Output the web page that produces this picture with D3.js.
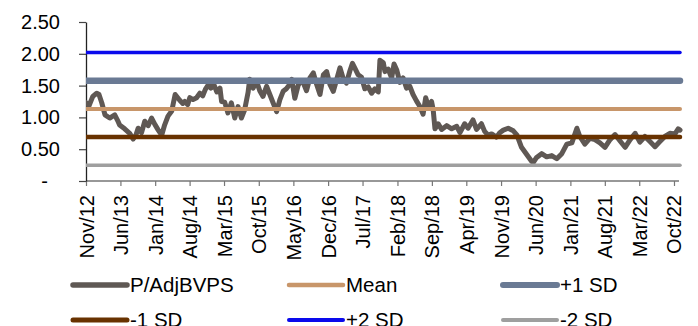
<!DOCTYPE html>
<html><head><meta charset="utf-8">
<script src="https://cdn.jsdelivr.net/npm/d3@7/dist/d3.min.js"></script>
<style>
body{margin:0;background:#fff}
svg text{font-family:"Liberation Sans",Arial,sans-serif;fill:#000}
</style>
</head><body>
<svg id="c" width="698" height="326"></svg>
<script>
// ---- data ----
const dates = ["2012-11-01","2012-11-19","2012-12-13","2013-01-06","2013-01-20","2013-02-06","2013-02-26","2013-03-27","2013-04-27","2013-05-15","2013-05-27","2013-06-27","2013-07-28","2013-08-18","2013-09-04","2013-09-18","2013-10-09","2013-10-29","2013-11-19","2013-12-10","2013-12-30","2014-01-20","2014-02-10","2014-02-28","2014-03-21","2014-04-13","2014-05-04","2014-06-01","2014-06-20","2014-07-02","2014-07-20","2014-08-02","2014-08-22","2014-09-13","2014-10-03","2014-10-21","2014-11-06","2014-11-23","2014-12-10","2014-12-28","2015-01-16","2015-02-04","2015-02-14","2015-03-05","2015-03-25","2015-04-15","2015-05-06","2015-05-26","2015-06-16","2015-07-06","2015-07-27","2015-08-06","2015-08-27","2015-09-17","2015-10-07","2015-10-27","2015-11-18","2015-12-08","2015-12-28","2016-01-19","2016-02-08","2016-02-28","2016-03-19","2016-04-09","2016-04-21","2016-05-10","2016-05-30","2016-06-16","2016-06-30","2016-07-21","2016-08-11","2016-09-01","2016-09-21","2016-10-12","2016-11-02","2016-11-22","2016-12-12","2017-01-02","2017-01-23","2017-02-12","2017-03-03","2017-03-24","2017-04-14","2017-04-30","2017-05-14","2017-06-04","2017-06-25","2017-07-15","2017-08-05","2017-08-26","2017-09-15","2017-10-06","2017-10-16","2017-11-06","2017-11-16","2017-12-06","2017-12-27","2018-01-11","2018-01-27","2018-02-16","2018-03-08","2018-03-29","2018-04-18","2018-05-08","2018-05-29","2018-06-19","2018-07-09","2018-07-25","2018-08-09","2018-08-30","2018-09-09","2018-09-20","2018-10-10","2018-10-31","2018-12-01","2019-01-01","2019-02-01","2019-02-21","2019-03-22","2019-04-12","2019-05-12","2019-06-03","2019-07-03","2019-07-23","2019-08-14","2019-09-04","2019-10-04","2019-10-24","2019-11-15","2019-12-15","2020-01-15","2020-02-07","2020-03-06","2020-04-06","2020-05-07","2020-05-17","2020-06-07","2020-07-08","2020-08-08","2020-09-08","2020-10-09","2020-11-09","2020-12-10","2021-01-10","2021-02-10","2021-02-28","2021-03-31","2021-05-01","2021-06-01","2021-07-02","2021-08-02","2021-09-02","2021-10-03","2021-11-03","2021-12-04","2022-01-04","2022-02-04","2022-03-05","2022-04-05","2022-05-06","2022-06-06","2022-07-06","2022-08-06","2022-09-06","2022-10-07","2022-10-27","2022-11-07"];
const values = [1.23,1.18,1.33,1.38,1.36,1.23,1.04,0.99,1.04,0.95,0.88,0.82,0.75,0.66,0.72,0.83,0.76,0.94,0.87,0.99,0.89,0.80,0.72,0.88,1.02,1.10,1.36,1.27,1.22,1.25,1.20,1.31,1.28,1.31,1.38,1.34,1.44,1.51,1.46,1.52,1.40,1.46,1.25,1.24,1.07,1.23,0.99,1.17,0.99,1.12,1.39,1.60,1.46,1.57,1.42,1.33,1.49,1.36,1.23,1.09,1.28,1.41,1.45,1.52,1.60,1.30,1.50,1.58,1.55,1.42,1.62,1.70,1.52,1.36,1.67,1.72,1.52,1.41,1.60,1.78,1.62,1.54,1.73,1.85,1.78,1.67,1.63,1.45,1.48,1.38,1.45,1.40,1.90,1.86,1.72,1.76,1.62,1.84,1.75,1.55,1.62,1.46,1.49,1.36,1.26,1.17,1.05,1.31,1.18,1.25,1.12,0.82,0.90,0.81,0.87,0.82,0.86,0.76,0.90,0.83,0.96,0.81,0.90,0.78,0.72,0.74,0.69,0.76,0.80,0.83,0.79,0.72,0.53,0.42,0.31,0.29,0.37,0.43,0.38,0.40,0.35,0.43,0.58,0.60,0.83,0.70,0.58,0.67,0.65,0.60,0.53,0.65,0.73,0.63,0.53,0.65,0.75,0.61,0.70,0.62,0.54,0.62,0.70,0.75,0.74,0.82,0.80];
const seriesName = "P/AdjBVPS";
const refNames = ["Mean","+1 SD","-1 SD","+2 SD","-2 SD"];
const refValues = [1.134,1.577,0.691,2.020,0.248];
const yTickValues = [0,0.5,1,1.5,2,2.5];
const yTickLabels = ["-","0.50","1.00","1.50","2.00","2.50"];
const xTickLabels = ["Nov/12","Jun/13","Jan/14","Aug/14","Mar/15","Oct/15","May/16","Dec/16","Jul/17","Feb/18","Sep/18","Apr/19","Nov/19","Jun/20","Jan/21","Aug/21","Mar/22","Oct/22"];
const legendOrder = ["P/AdjBVPS","Mean","+1 SD","-1 SD","+2 SD","-2 SD"];

// ---- styles ----
const colors = {"P/AdjBVPS":"#5f5854","Mean":"#c8966a","+1 SD":"#6a7a94","-1 SD":"#683200","+2 SD":"#0a0aec","-2 SD":"#9f9f9f"};
const widths = {"P/AdjBVPS":5,"Mean":4,"+1 SD":6.5,"-1 SD":4.5,"+2 SD":3.5,"-2 SD":3.5};

const parse = d3.utcParse("%Y-%m-%d");
const data = dates.map((d,i)=>({date:parse(d),value:values[i]}));
const svg = d3.select("#c");
const x0 = 86, x1 = 680, yTop = 22, yBot = 181;
const x = d3.scaleUtc().domain([data[0].date, data[data.length-1].date]).range([x0,x1]);
const y = d3.scaleLinear().domain([0,2.5]).range([yBot,yTop]);
const FS = 20;

svg.append("defs").append("clipPath").attr("id","clip")
  .append("rect").attr("x",x0).attr("y",0).attr("width",698-x0).attr("height",yBot+4);

// x axis
const xTickDates = xTickLabels.map((l,i)=>d3.utcMonth.offset(data[0].date, 7*i));
const xAxis = d3.axisBottom(x).tickValues(xTickDates).tickSize(5).tickSizeOuter(0)
  .tickFormat((d,i)=>xTickLabels[i]);
const gx = svg.append("g").attr("transform",`translate(0,${yBot})`).call(xAxis);
gx.select(".domain").attr("stroke","#767676").attr("stroke-width",1.5).attr("d",`M${x0},0H${x1-1}`);
gx.selectAll(".tick line").attr("stroke","#767676").attr("stroke-width",1.2);
gx.selectAll(".tick text").attr("transform","rotate(-90)").attr("x",-14).attr("y",7).attr("dy",0)
  .style("text-anchor","end").style("font-size",FS+"px").attr("fill","#000");

// y axis
const yAxis = d3.axisLeft(y).tickValues(yTickValues).tickSize(7).tickPadding(19).tickSizeOuter(0)
  .tickFormat((d,i)=>yTickLabels[i]);
const gy = svg.append("g").attr("transform",`translate(${x0},0)`).call(yAxis);
gy.select(".domain").attr("stroke","#222").attr("stroke-width",1.3);
gy.selectAll(".tick line").attr("stroke","#444").attr("stroke-width",1.2);
gy.selectAll(".tick text").style("font-size",FS+"px").attr("fill","#000")
  .attr("x",(d)=> d===0 ? -38 : -26);

// series line
const line = d3.line().x(d=>x(d.date)).y(d=>y(d.value)).curve(d3.curveLinear);
const plot = svg.append("g").attr("clip-path","url(#clip)");
plot.append("path").datum(data).attr("d",line).attr("fill","none")
  .attr("stroke",colors[seriesName]).attr("stroke-width",widths[seriesName])
  .attr("stroke-linejoin","round").attr("stroke-linecap","round");

// reference lines
refNames.forEach((n,i)=>{
  plot.append("line").attr("x1",x(data[0].date)).attr("x2",x(data[data.length-1].date))
    .attr("y1",y(refValues[i])).attr("y2",y(refValues[i]))
    .attr("stroke",colors[n]).attr("stroke-width",widths[n]).attr("stroke-linecap","round");
});

// legend
const colX = [73, 289, 503];
const rowY = [285, 320];
legendOrder.forEach((n,i)=>{
  const c = i%3, r = Math.floor(i/3);
  const g = svg.append("g").attr("transform",`translate(${colX[c]},${rowY[r]})`);
  g.append("line").attr("x1",0).attr("x2",54).attr("y1",0).attr("y2",0)
    .attr("stroke",colors[n]).attr("stroke-width",Math.min(widths[n]+0.5,6)).attr("stroke-linecap","round");
  g.append("text").attr("x",57).attr("y",0).attr("dy","0.35em").style("font-size",(FS+0.5)+"px").text(n);
});
</script>
</body></html>
